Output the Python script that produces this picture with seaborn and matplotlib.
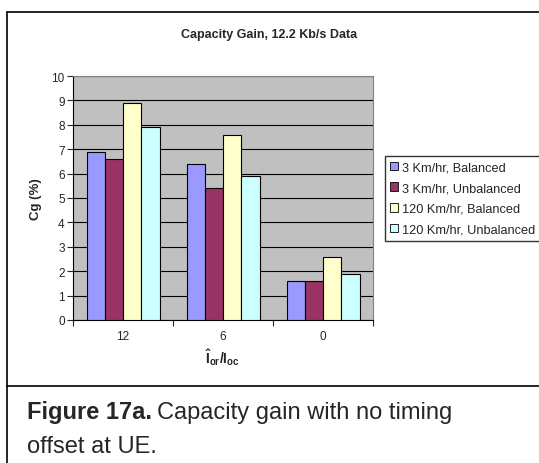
import matplotlib
matplotlib.use("Agg")
import matplotlib.pyplot as plt
import seaborn as sns
import pandas as pd
from matplotlib.lines import Line2D
from matplotlib.patches import Patch

# ── Data ─────────────────────────────────────────────────────────────────────
ratios = ["12", "6", "0"]
series = ["3 Km/hr, Balanced", "3 Km/hr, Unbalanced",
          "120 Km/hr, Balanced", "120 Km/hr, Unbalanced"]
bal_3 = [6.9, 6.4, 1.6]
unbal_3 = [6.6, 5.4, 1.6]
bal_120 = [8.9, 7.6, 2.6]
unbal_120 = [7.9, 5.9, 1.9]
colors = ["#9999FF", "#993366", "#FFFFCC", "#CCFFFF"]

rows = []
for name, vals in zip(series, [bal_3, unbal_3, bal_120, unbal_120]):
    for r, v in zip(ratios, vals):
        rows.append({"ratio": r, "cg": v, "series": name})
df = pd.DataFrame(rows)

sns.set_style("white")
plt.rcParams["font.family"] = ["Liberation Sans", "DejaVu Sans"]
plt.rcParams["mathtext.fontset"] = "custom"
plt.rcParams["mathtext.rm"] = "Liberation Sans"
plt.rcParams["mathtext.bf"] = "Liberation Sans:bold"

W, H = 539, 464
fig = plt.figure(figsize=(W / 100, H / 100), dpi=100)
ax = fig.add_axes([73 / W, 1 - 321 / H, 300 / W, 244 / H])
ax.set_facecolor("#C0C0C0")

sns.barplot(data=df, x="ratio", y="cg", hue="series", order=ratios,
            hue_order=series, palette=colors, width=0.73, gap=0,
            edgecolor="black", linewidth=0.8, saturation=1, ax=ax,
            legend=False, zorder=3)

ax.set_ylim(0, 10)
ax.set_xlim(-0.5, 2.5)
ax.set_yticks(range(0, 11))
ax.yaxis.grid(True, color="black", linewidth=0.8, zorder=0)
ax.set_axisbelow(True)
ax.tick_params(axis="y", left=True, length=4, width=0.8, labelsize=8.5, pad=2)
ax.tick_params(axis="x", which="major", length=0, labelsize=8.5, pad=7)
ax.set_xticks([-0.5, 0.5, 1.5, 2.5], minor=True)
ax.tick_params(axis="x", which="minor", bottom=True, length=4, width=0.8)
for s in ["left", "bottom"]:
    ax.spines[s].set_color("black")
    ax.spines[s].set_linewidth(0.8)
for s in ["top", "right"]:
    ax.spines[s].set_color("#808080")
    ax.spines[s].set_linewidth(0.8)

ax.set_ylabel("Cg (%)", fontsize=9.5, fontweight="bold", labelpad=7)
ax.set_xlabel(r"$\mathbf{\hat{I}_{or}/I_{oc}}$", fontsize=10, labelpad=3)

fig.text(0.5, 1 - 35 / H, "Capacity Gain, 12.2 Kb/s Data",
         ha="center", va="center", fontsize=9, fontweight="bold")

handles = [Patch(facecolor=c, edgecolor="black", linewidth=0.6) for c in colors]
fig.legend(handles, series, loc="upper left",
           bbox_to_anchor=(385 / W, 1 - 157 / H), fontsize=9.2,
           frameon=True, fancybox=False, edgecolor="black",
           handlelength=0.6, handleheight=0.6, handletextpad=0.3,
           borderpad=0.4, labelspacing=0.7, borderaxespad=0)

# outer frame and caption divider
lw = 1.2
fig.add_artist(Line2D([7 / W, 1], [1 - 13 / H] * 2, color="black", lw=lw))
fig.add_artist(Line2D([7 / W] * 2, [0, 1 - 13 / H], color="black", lw=lw))
fig.add_artist(Line2D([7 / W, 1], [1 - 387 / H] * 2, color="black", lw=lw))

# caption, bold lead then regular text
cap_size = 17
t1 = fig.text(27 / W, 1 - 413 / H, "Figure 17a.", fontsize=cap_size,
              fontweight="bold", va="center", ha="left")
fig.canvas.draw()
bb = t1.get_window_extent()
fig.text((bb.x1 + 5) / W, 1 - 413 / H, "Capacity gain with no timing",
         fontsize=cap_size, va="center", ha="left")
fig.text(27 / W, 1 - 447 / H, "offset at UE.", fontsize=cap_size,
         va="center", ha="left")

fig.savefig("out.png", dpi=100)
